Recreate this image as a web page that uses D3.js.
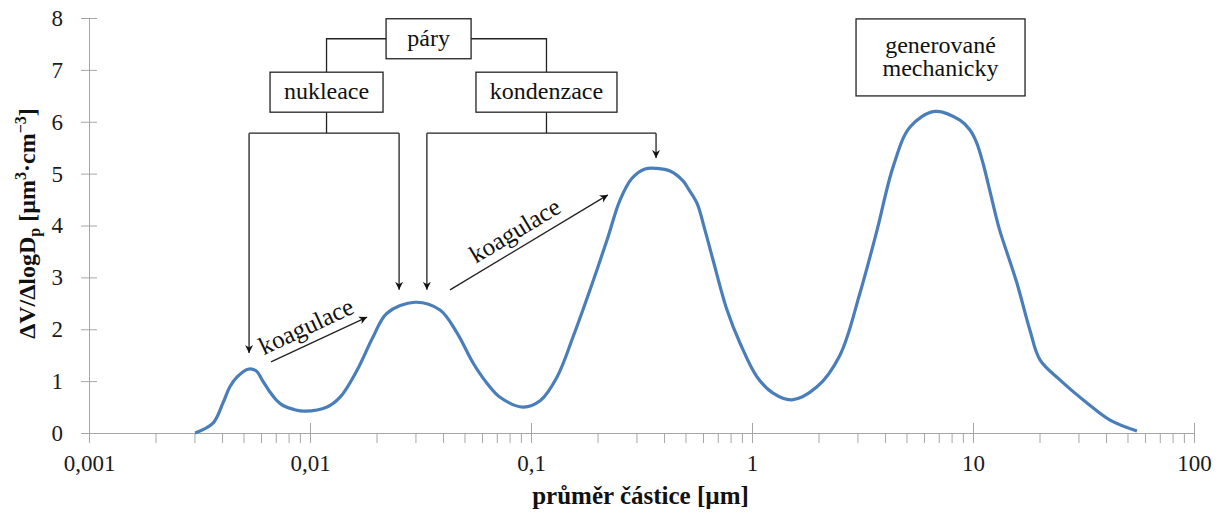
<!DOCTYPE html>
<html>
<head>
<meta charset="utf-8">
<script src="https://cdn.jsdelivr.net/npm/d3@7"></script>
<style>
  body { margin: 0; background: #fff; }
</style>
</head>
<body>
<div id="chart"></div>
<script>
// particle diameter [µm] and volume distribution
var diameters = [0.00302, 0.00364, 0.00404, 0.00434, 0.00468, 0.00524, 0.0057, 0.00608, 0.00659, 0.0071,
  0.00755, 0.0085, 0.00949, 0.01194, 0.01368, 0.01633, 0.01928, 0.0223, 0.02985, 0.03875,
  0.04625, 0.0547, 0.0632, 0.0724, 0.092, 0.1099, 0.1312, 0.1549, 0.185, 0.2208,
  0.2528, 0.2864, 0.328, 0.3717, 0.4256, 0.4874, 0.513, 0.5636, 0.6126, 0.6668,
  0.771, 0.883, 1.054, 1.245, 1.517, 1.968, 2.5, 3.08, 3.68, 4.35,
  5.19, 6.73, 8.73, 9.69, 10.4, 11.1, 11.9, 12.6, 13.2, 15.8,
  18.1, 20.1, 24.8, 32.8, 41.7, 55.2];
var volumes = [0, 0.19, 0.58, 0.89, 1.08, 1.23, 1.2, 1.02, 0.79, 0.62,
  0.53, 0.45, 0.42, 0.5, 0.69, 1.21, 1.85, 2.31, 2.52, 2.37,
  1.93, 1.35, 0.96, 0.69, 0.5, 0.62, 1.08, 1.85, 2.76, 3.72,
  4.49, 4.91, 5.09, 5.1, 5.05, 4.86, 4.72, 4.43, 3.91, 3.33,
  2.37, 1.73, 1.08, 0.77, 0.64, 0.89, 1.5, 2.7, 3.91, 5.13,
  5.9, 6.2, 6.03, 5.84, 5.59, 5.2, 4.68, 4.24, 3.91, 2.89,
  1.98, 1.41, 1.02, 0.58, 0.25, 0.04];

var xMajorTicks = [0.001, 0.01, 0.1, 1, 10, 100];
var xTickLabels = ["0,001", "0,01", "0,1", "1", "10", "100"];
var yTicks = [0, 1, 2, 3, 4, 5, 6, 7, 8];

// annotation boxes (centre in data units)
var boxLabels = [["páry"], ["nukleace"], ["kondenzace"], ["generované", "mechanicky"]];
var boxCenterX = [0.0344, 0.01188, 0.1175, 7.13];
var boxCenterY = [7.6, 6.57, 6.57, 7.24];
// arrows pointing down at the modes
var modeArrowX = [0.0053, 0.0253, 0.0338, 0.368];
var modeArrowTip = [1.54, 2.76, 2.76, 5.3];
var bracketY = 5.78;
// coagulation arrows: start/end in data units
var coagFrom = [[0.00666, 1.37], [0.043, 2.76]];
var coagTo = [[0.01812, 2.235], [0.2228, 4.59]];

var FONT = '"Liberation Serif", "Times New Roman", Times, "DejaVu Serif", serif';

var svgWidth = 1228, svgHeight = 514;
var margin = { top: 18, right: 34, bottom: 81, left: 89 };
var width = svgWidth - margin.left - margin.right;
var height = svgHeight - margin.top - margin.bottom;

var svg = d3.select("#chart").append("svg")
  .attr("width", svgWidth)
  .attr("height", svgHeight)
  .style("font-family", FONT);

var defs = svg.append("defs");
defs.append("marker")
  .attr("id", "arrow")
  .attr("viewBox", "0 0 10 10")
  .attr("refX", 10).attr("refY", 5)
  .attr("markerWidth", 8).attr("markerHeight", 9)
  .attr("markerUnits", "userSpaceOnUse")
  .attr("orient", "auto")
  .append("path")
  .attr("d", "M0,0 L10,5 L0,10 L3,5 Z")
  .attr("fill", "#111");

var chartGroup = svg.append("g")
  .attr("transform", `translate(${margin.left}, ${margin.top})`);

var x = d3.scaleLog().domain([0.001, 100]).range([0, width]);
var y = d3.scaleLinear().domain([0, 8]).range([height, 0]);

var axisColor = "#a6a6a6";

// minor ticks on the x axis
var minorTicks = [];
xMajorTicks.slice(0, -1).forEach(function(m) {
  for (var k = 2; k <= 9; k++) minorTicks.push(m * k);
});
chartGroup.append("g")
  .attr("transform", `translate(0, ${height})`)
  .call(d3.axisBottom(x).tickValues(minorTicks).tickFormat("").tickSize(10).tickSizeOuter(0))
  .call(g => g.select(".domain").remove())
  .call(g => g.selectAll("line").attr("stroke", axisColor));

// major ticks + labels
var xAxis = chartGroup.append("g")
  .attr("transform", `translate(0, ${height})`)
  .call(d3.axisBottom(x).tickValues(xMajorTicks)
    .tickFormat((d, i) => xTickLabels[i]).tickSize(10).tickSizeOuter(0).tickPadding(12));
xAxis.attr("font-family", null);
xAxis.select(".domain").attr("stroke", axisColor);
xAxis.selectAll("line").attr("stroke", axisColor).attr("y1", -10);
xAxis.selectAll("text").attr("font-size", 23).attr("fill", "#1a1a1a");

var yAxis = chartGroup.append("g")
  .call(d3.axisLeft(y).tickValues(yTicks).tickSize(8).tickSizeOuter(0).tickPadding(18));
yAxis.attr("font-family", null);
yAxis.select(".domain").attr("stroke", axisColor);
yAxis.selectAll("line").attr("stroke", axisColor).attr("x2", 8).attr("x1", -8);
yAxis.selectAll("text").attr("font-size", 23).attr("fill", "#1a1a1a");

// the distribution curve
var data = diameters.map((d, i) => ({ d: d, v: volumes[i] }));
var line = d3.line()
  .x(d => x(d.d))
  .y(d => y(d.v))
  .curve(d3.curveCatmullRom.alpha(0.5));
chartGroup.append("path")
  .datum(data)
  .attr("fill", "none")
  .attr("stroke", "#4a7ebb")
  .attr("stroke-width", 3.2)
  .attr("stroke-linejoin", "round")
  .attr("d", line);

// annotation boxes
var boxW = [85, 113, 141, 169], boxH = [40, 40, 40, 77];
var ann = chartGroup.append("g").attr("class", "annotations");
var lineColor = "#222";

function cx(i) { return x(boxCenterX[i]); }
function cy(i) { return y(boxCenterY[i]); }

// páry -> nukleace / kondenzace connectors
ann.append("path")
  .attr("d", `M${cx(0) - boxW[0] / 2},${cy(0)} H${cx(1)} V${cy(1) - boxH[1] / 2}` +
    ` M${cx(0) + boxW[0] / 2},${cy(0)} H${cx(2)} V${cy(2) - boxH[2] / 2}`)
  .attr("fill", "none").attr("stroke", lineColor).attr("stroke-width", 1.3);

// brackets down to the modes
[[1, 0, 1], [2, 2, 3]].forEach(function(b) {
  var bi = b[0], a = b[1], c = b[2];
  ann.append("path")
    .attr("d", `M${cx(bi)},${cy(bi) + boxH[bi] / 2} V${y(bracketY)}` +
      ` M${x(modeArrowX[a])},${y(bracketY)} H${x(modeArrowX[c])}`)
    .attr("fill", "none").attr("stroke", lineColor).attr("stroke-width", 1.3);
});
modeArrowX.forEach(function(mx, i) {
  ann.append("line")
    .attr("x1", x(mx)).attr("x2", x(mx))
    .attr("y1", y(bracketY)).attr("y2", y(modeArrowTip[i]))
    .attr("stroke", lineColor).attr("stroke-width", 1.3)
    .attr("marker-end", "url(#arrow)");
});

boxLabels.forEach(function(lbl, i) {
  ann.append("rect")
    .attr("x", cx(i) - boxW[i] / 2).attr("y", cy(i) - boxH[i] / 2)
    .attr("width", boxW[i]).attr("height", boxH[i])
    .attr("fill", "#fff").attr("stroke", lineColor).attr("stroke-width", 1.3);
  var t = ann.append("text")
    .attr("x", cx(i))
    .attr("y", cy(i) - (lbl.length - 1) * 11.5 + 7)
    .attr("text-anchor", "middle")
    .attr("font-size", 24)
    .attr("fill", "#111");
  lbl.forEach(function(s, j) {
    t.append("tspan").attr("x", cx(i)).attr("dy", j === 0 ? 0 : 23).text(s);
  });
});

// koagulace arrows with text
coagFrom.forEach(function(f, i) {
  var x1 = x(f[0]), y1 = y(f[1]), x2 = x(coagTo[i][0]), y2 = y(coagTo[i][1]);
  ann.append("line")
    .attr("x1", x1).attr("y1", y1).attr("x2", x2).attr("y2", y2)
    .attr("stroke", lineColor).attr("stroke-width", 1.3)
    .attr("marker-end", "url(#arrow)");
  var ang = Math.atan2(y2 - y1, x2 - x1) * 180 / Math.PI;
  var mx = (x1 + x2) / 2, my = (y1 + y2) / 2;
  ann.append("text")
    .attr("transform", `translate(${mx}, ${my}) rotate(${ang}) translate(-6, -9)`)
    .attr("text-anchor", "middle")
    .attr("font-size", 25)
    .attr("fill", "#111")
    .text("koagulace");
});

// axis titles
chartGroup.append("text")
  .attr("x", width / 2 - 1)
  .attr("y", height + 71)
  .attr("text-anchor", "middle")
  .attr("font-size", 25)
  .attr("font-weight", "bold")
  .attr("fill", "#111")
  .text("průměr částice [µm]");

var yTitle = chartGroup.append("text")
  .attr("transform", `translate(${-margin.left + 35}, ${height / 2 - 2}) rotate(-90)`)
  .attr("text-anchor", "middle")
  .attr("font-size", 24)
  .attr("font-weight", "bold")
  .attr("fill", "#111");
yTitle.append("tspan").text("ΔV/ΔlogD");
yTitle.append("tspan").attr("dy", 5).attr("font-size", 16).text("p");
yTitle.append("tspan").attr("dy", -5).text(" [µm");
yTitle.append("tspan").attr("dy", -9).attr("font-size", 16).text("3");
yTitle.append("tspan").attr("dy", 9).text("·cm");
yTitle.append("tspan").attr("dy", -9).attr("font-size", 16).text("−3");
yTitle.append("tspan").attr("dy", 9).text("]");
</script>
</body>
</html>
